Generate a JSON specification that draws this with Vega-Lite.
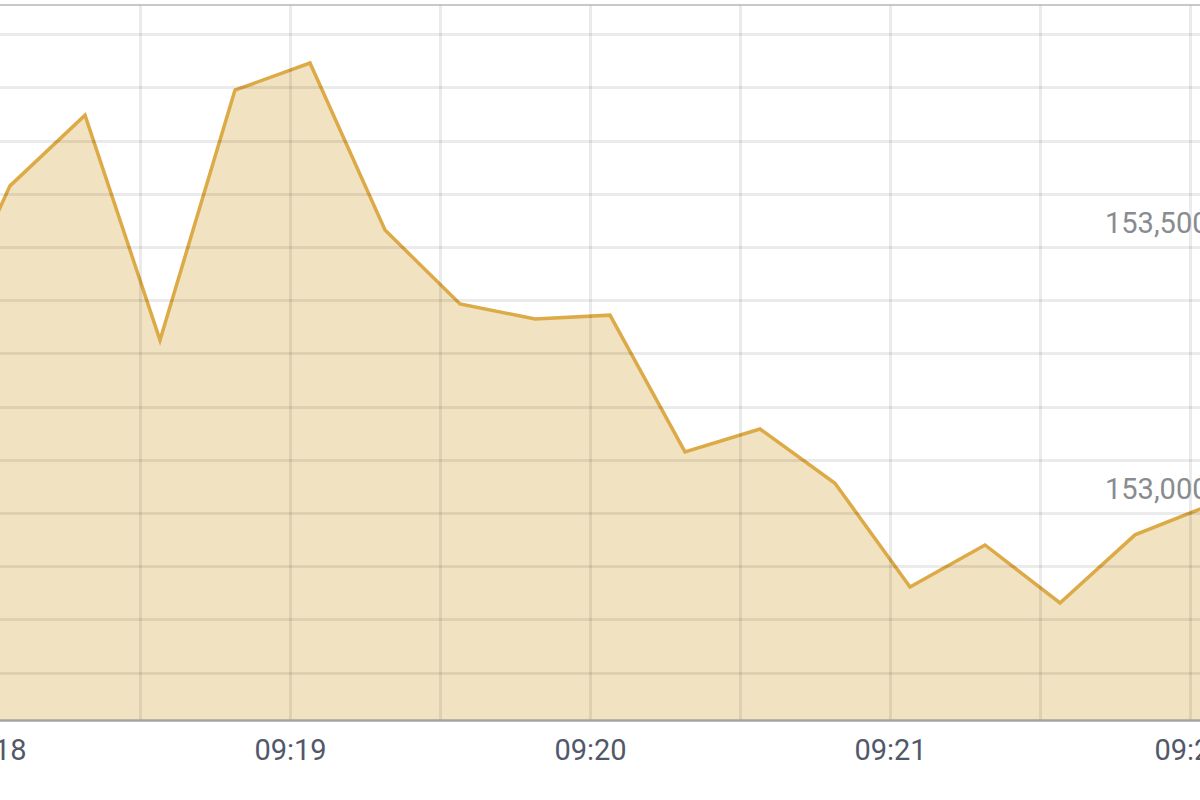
{
  "$schema": "https://vega.github.io/schema/vega-lite/v6.json",
  "autosize": {"type": "none"},
  "padding": {"left": -100, "top": 5, "right": 0, "bottom": 80},
  "width": 1320,
  "height": 715,
  "background": "white",
  "config": {
    "view": {"stroke": "#c9c9c9", "strokeWidth": 2},
    "font": "Roboto"
  },
  "data": {
    "values": [
      {"t": "2024-01-01T09:17:34Z", "price": 153250},
      {"t": "2024-01-01T09:17:49Z", "price": 153306},
      {"t": "2024-01-01T09:18:04Z", "price": 153615},
      {"t": "2024-01-01T09:18:19Z", "price": 153748},
      {"t": "2024-01-01T09:18:34Z", "price": 153325},
      {"t": "2024-01-01T09:18:49Z", "price": 153795},
      {"t": "2024-01-01T09:19:04Z", "price": 153846},
      {"t": "2024-01-01T09:19:19Z", "price": 153532},
      {"t": "2024-01-01T09:19:34Z", "price": 153393},
      {"t": "2024-01-01T09:19:49Z", "price": 153365},
      {"t": "2024-01-01T09:20:04Z", "price": 153372},
      {"t": "2024-01-01T09:20:19Z", "price": 153115},
      {"t": "2024-01-01T09:20:34Z", "price": 153158},
      {"t": "2024-01-01T09:20:49Z", "price": 153056},
      {"t": "2024-01-01T09:21:04Z", "price": 152861},
      {"t": "2024-01-01T09:21:19Z", "price": 152940},
      {"t": "2024-01-01T09:21:34Z", "price": 152831},
      {"t": "2024-01-01T09:21:49Z", "price": 152959},
      {"t": "2024-01-01T09:22:04Z", "price": 153015},
      {"t": "2024-01-01T09:22:19Z", "price": 153040}
    ]
  },
  "mark": {
    "type": "area",
    "color": "#f1e2c1",
    "opacity": 1,
    "clip": true,
    "line": {"color": "#dcaa47", "strokeWidth": 3.5}
  },
  "encoding": {
    "x": {
      "field": "t",
      "type": "temporal",
      "scale": {
        "type": "utc",
        "domain": [1704100662000, 1704100926000],
        "nice": false
      },
      "axis": {
        "title": null,
        "values": [1704100650000, 1704100680000, 1704100710000, 1704100740000, 1704100770000, 1704100800000, 1704100830000, 1704100860000, 1704100890000, 1704100920000],
        "labelExpr": "utcFormat(datum.value, '%S') == '00' ? utcFormat(datum.value, '%H:%M') : ''",
        "labelFontSize": 29,
        "labelColor": "#52586a",
        "labelPadding": 16,
        "labelBaseline": "top",
        "labelFlush": false,
        "labelOverlap": false,
        "ticks": false,
        "domainColor": "#a3a3a3",
        "domainWidth": 2.5,
        "gridColor": "#000000",
        "gridOpacity": 0.08,
        "gridWidth": 3,
        "zindex": 1
      }
    },
    "y": {
      "field": "price",
      "type": "quantitative",
      "scale": {"domain": [152611, 153955], "nice": false, "zero": false},
      "axis": {
        "title": null,
        "orient": "right",
        "values": [152700, 152800, 152900, 153000, 153100, 153200, 153300, 153400, 153500, 153600, 153700, 153800, 153900],
        "labelExpr": "datum.value == 153000 || datum.value == 153500 ? format(datum.value, ',') : ''",
        "labelFontSize": 29,
        "labelColor": "#888b90",
        "labelAlign": "right",
        "labelBaseline": "bottom",
        "labelPadding": -12,
        "labelOffset": -9,
        "labelOverlap": false,
        "ticks": false,
        "domain": false,
        "gridColor": "#000000",
        "gridOpacity": 0.08,
        "gridWidth": 3,
        "zindex": 1
      }
    }
  }
}
